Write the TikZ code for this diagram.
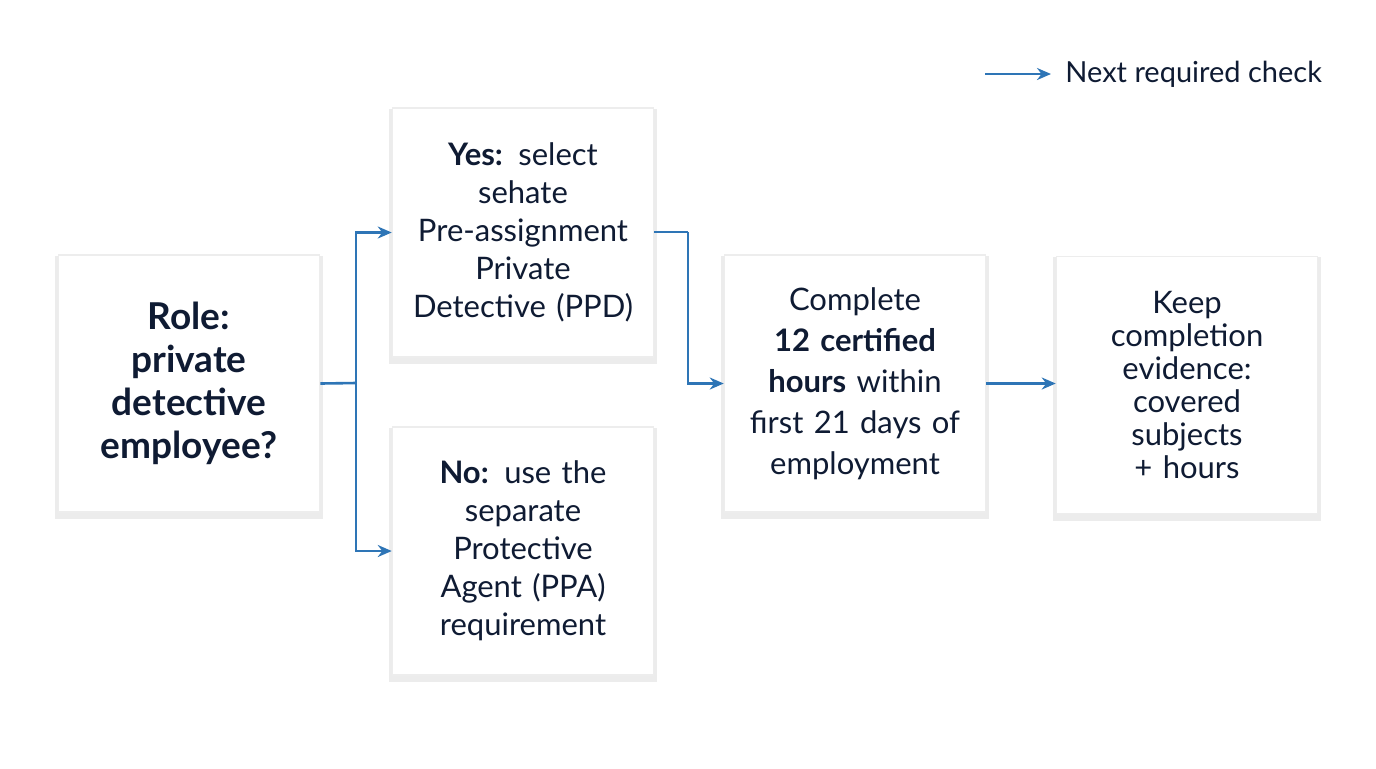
\documentclass[tikz,border=0pt]{standalone}
\usepackage{fontspec}
\setmainfont{Lato}
\usetikzlibrary{arrows.meta,shadows}
\definecolor{flowblue}{RGB}{46,117,182}
\definecolor{inkblue}{RGB}{15,27,51}
\tikzset{
  stepbox/.style={draw=black!7,line width=0.6pt,fill=white,minimum width=129pt,minimum height=128.5pt,
    text width=124pt,align=center,text=inkblue,font=\fontsize{15.5}{19}\selectfont,
    drop shadow={shadow xshift=0pt,shadow yshift=-2pt,shadow scale=1.025,opacity=0.12,fill=black!60}},
  link/.style={draw=flowblue,line width=1.3pt,-{Stealth[length=7pt,width=6pt]}}
}
\begin{document}
\begin{tikzpicture}[x=0.5pt,y=-0.5pt]
\useasboundingbox[fill=white] (0,0) rectangle (1376,768);

% boxes
\node[stepbox,font=\bfseries\fontsize{18.5}{21.5}\selectfont] (role) at (189,383.5) {Role:\\private\\detective\\employee?};
\node[stepbox,minimum height=124.5pt] (yes) at (523,232.5) {\textbf{Yes:} select\\sehate\\Pre-assignment\\Private\\Detective (PPD)};
\node[stepbox,minimum height=124pt] (no) at (523,551) {\textbf{No:} use the\\separate\\Protective\\Agent (PPA)\\requirement};
\node[stepbox,font=\fontsize{15.5}{20.5}\selectfont] (complete) at (855,383.5) {Complete\\\textbf{12 certified}\\\textbf{hours} within\\first 21 days of\\employment};
\node[stepbox,font=\fontsize{15.5}{16.5}\selectfont] (keep) at (1187,385) {Keep\\completion\\evidence:\\covered\\subjects\\+ hours};

% connectors
\coordinate (split) at (356,383);
\coordinate (merge) at (688,232);
\draw[draw=flowblue,line width=1.3pt] (role.east) -- (split);
\draw[link] (split) |- (yes.west);
\draw[link] (split) |- (no.west);
\draw[draw=flowblue,line width=1.3pt] (yes.east |- merge) -- (merge);
\draw[link] (merge) |- (complete.west);
\draw[link] (complete.east) -- (keep.west |- complete.east);

% legend
\coordinate (legA) at (985,74);
\node[anchor=west,text=inkblue,font=\fontsize{14.5}{17}\selectfont,inner sep=0pt] (legend) at (1065,74) {Next required check};
\draw[link] (legA) -- ([xshift=-7pt]legend.west);
\end{tikzpicture}
\end{document}
